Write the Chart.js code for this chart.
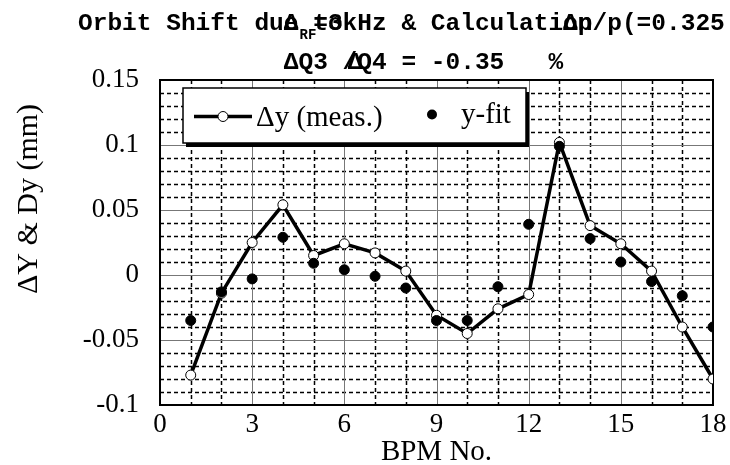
<!DOCTYPE html>
<html><head><meta charset="utf-8">
<script src="https://cdn.jsdelivr.net/npm/chart.js@4/dist/chart.umd.min.js"></script>
<style>html,body{margin:0;padding:0;background:#fff}</style>
</head><body>
<canvas id="c" width="730" height="465"></canvas>
<script>
// ---- data ----
const bpm = [1,2,3,4,5,6,7,8,9,10,11,12,13,14,15,16,17,18];
const measured = [-0.077,-0.014,0.025,0.054,0.015,0.024,0.017,0.003,-0.031,-0.045,-0.026,-0.015,0.102,0.038,0.024,0.003,-0.040,-0.080];
const fitted   = [-0.035,-0.013,-0.003,0.029,0.009,0.004,-0.001,-0.010,-0.035,-0.035,-0.009,0.039,0.099,0.028,0.010,-0.005,-0.016,-0.040];
const xTickLabels = [0,3,6,9,12,15,18];
const yTickLabels = [-0.1,-0.05,0,0.05,0.1,0.15];
const seriesNames = ["\u0394y (meas.)", "y-fit"];
const xTitle = "BPM No.";
const yTitle = "\u0394Y & Dy (mm)";
const title1Base = "Orbit Shift due tokHz & Calculation/p(=0.325";
const title1Over = [["\u0394",14],["=3",16],["\u0394p",33]];
const title1Sub = "RF";
const title2Base = "\u0394Q3 /Q4 = -0.35   %";
const title2Over = [["\u0394",18.35]];

const SERIF = "'Liberation Serif','Times New Roman',serif";
const MONO = "'Liberation Mono','Courier New',monospace";

const decor = {
  id: 'decor',
  beforeDatasetsDraw(chart) {
    const {ctx, chartArea: a, scales: {x, y}} = chart;
    ctx.save();
    ctx.strokeStyle = '#000'; ctx.lineWidth = 1.5; ctx.setLineDash([4,3]);
    for (let i = -9; i < 15; i++) {
      if (i % 5 === 0) continue;
      const py = Math.round(y.getPixelForValue(i/100)) + 0.5;
      ctx.beginPath(); ctx.moveTo(a.left, py); ctx.lineTo(a.right, py); ctx.stroke();
    }
    for (let i = 1; i < 18; i++) {
      if (i % 3 === 0) continue;
      const px = Math.round(x.getPixelForValue(i)) + 0.5;
      ctx.beginPath(); ctx.moveTo(px, a.top); ctx.lineTo(px, a.bottom); ctx.stroke();
    }
    ctx.setLineDash([]);
    ctx.strokeStyle = '#777'; ctx.lineWidth = 1;
    for (const v of yTickLabels) {
      const py = Math.round(y.getPixelForValue(v)) + 0.5;
      ctx.beginPath(); ctx.moveTo(a.left, py); ctx.lineTo(a.right, py); ctx.stroke();
    }
    for (const v of xTickLabels) {
      const px = Math.round(x.getPixelForValue(v)) + 0.5;
      ctx.beginPath(); ctx.moveTo(px, a.top); ctx.lineTo(px, a.bottom); ctx.stroke();
    }
    ctx.strokeStyle = '#000'; ctx.lineWidth = 2;
    ctx.strokeRect(a.left, a.top, a.right - a.left, a.bottom - a.top);
    ctx.restore();
  },
  afterDraw(chart) {
    const {ctx} = chart;
    ctx.save();
    ctx.fillStyle = '#000';
    ctx.textAlign = 'left'; ctx.textBaseline = 'alphabetic';
    ctx.font = "bold 24.5px " + MONO;
    const W = 14.7, X0 = 78;
    const grid = (s, idx, yy) => { for (let i = 0; i < s.length; i++) if (s[i] !== ' ') ctx.fillText(s[i], X0 + (idx + i) * W, yy); };
    grid(title1Base, 0, 30);
    for (const [s, i] of title1Over) grid(s, i, 30);
    grid(title2Base, 14, 69);
    for (const [s, i] of title2Over) grid(s, i, 69);
    ctx.font = "bold 14px " + MONO;
    ctx.fillText(title1Sub, X0 + 15 * W + 1, 39);
    ctx.font = "30px " + SERIF;
    ctx.save();
    ctx.translate(29, 199); ctx.rotate(-Math.PI / 2);
    ctx.textAlign = 'center'; ctx.textBaseline = 'middle';
    ctx.fillText(yTitle, 0, 0);
    ctx.restore();
    const L = 183, T = 88, LW = 343, LH = 55;
    ctx.fillStyle = '#000'; ctx.fillRect(L + 3, T + 4, LW, LH);
    ctx.fillStyle = '#fff'; ctx.fillRect(L, T, LW, LH);
    ctx.strokeStyle = '#000'; ctx.lineWidth = 1.5; ctx.strokeRect(L, T, LW, LH);
    const cy = T + LH / 2;
    ctx.lineWidth = 3.5; ctx.beginPath(); ctx.moveTo(L + 11, cy + 1); ctx.lineTo(L + 69, cy + 1); ctx.stroke();
    ctx.lineWidth = 1; ctx.beginPath(); ctx.arc(L + 40, cy + 1, 5, 0, Math.PI * 2); ctx.fillStyle = '#fff'; ctx.fill(); ctx.stroke();
    ctx.fillStyle = '#000'; ctx.font = "29px " + SERIF; ctx.textBaseline = 'middle';
    ctx.fillText(seriesNames[0], L + 73, cy + 3);
    ctx.beginPath(); ctx.arc(L + 249, cy - 1, 5, 0, Math.PI * 2); ctx.fill();
    ctx.fillText(seriesNames[1], L + 278, cy);
    ctx.restore();
  }
};

const fmt = v => String(Number(v.toFixed(2)));

new Chart(document.getElementById('c'), {
  type: 'scatter',
  data: {
    datasets: [
      { label: seriesNames[0], data: bpm.map((b, i) => ({x: b, y: measured[i]})), showLine: true,
        borderColor: '#000', borderWidth: 3.5, pointRadius: 5, pointHoverRadius: 5,
        pointBackgroundColor: '#fff', pointBorderColor: '#000', pointBorderWidth: 1, order: 1 },
      { label: seriesNames[1], data: bpm.map((b, i) => ({x: b, y: fitted[i]})), showLine: false,
        pointRadius: 5, pointHoverRadius: 5, pointBackgroundColor: '#000', pointBorderColor: '#000', order: 0 }
    ]
  },
  options: {
    responsive: false, animation: false, devicePixelRatio: 1,
    layout: { padding: { left: 0, top: 80, right: 17, bottom: 0 } },
    plugins: { legend: { display: false }, tooltip: { enabled: false }, title: { display: false } },
    scales: {
      x: {
        type: 'linear', min: 0, max: 18,
        afterBuildTicks: s => { s.ticks = xTickLabels.map(v => ({value: v})); },
        afterFit: s => { s.height = 60; },
        grid: { display: false }, border: { display: false },
        ticks: { color: '#000', font: { family: SERIF, size: 27 }, padding: -4, maxRotation: 0, autoSkip: false },
        title: { display: true, text: xTitle, color: '#000', font: { family: SERIF, size: 29 }, padding: { top: 0, bottom: -5 } }
      },
      y: {
        type: 'linear', min: -0.1, max: 0.15,
        afterBuildTicks: s => { s.ticks = yTickLabels.map(v => ({value: v})); },
        afterFit: s => { s.width = 160; },
        grid: { display: false }, border: { display: false },
        ticks: { color: '#000', font: { family: SERIF, size: 27 }, padding: 13, callback: v => fmt(v), autoSkip: false }
      }
    }
  },
  plugins: [decor]
});
</script>
</body></html>
